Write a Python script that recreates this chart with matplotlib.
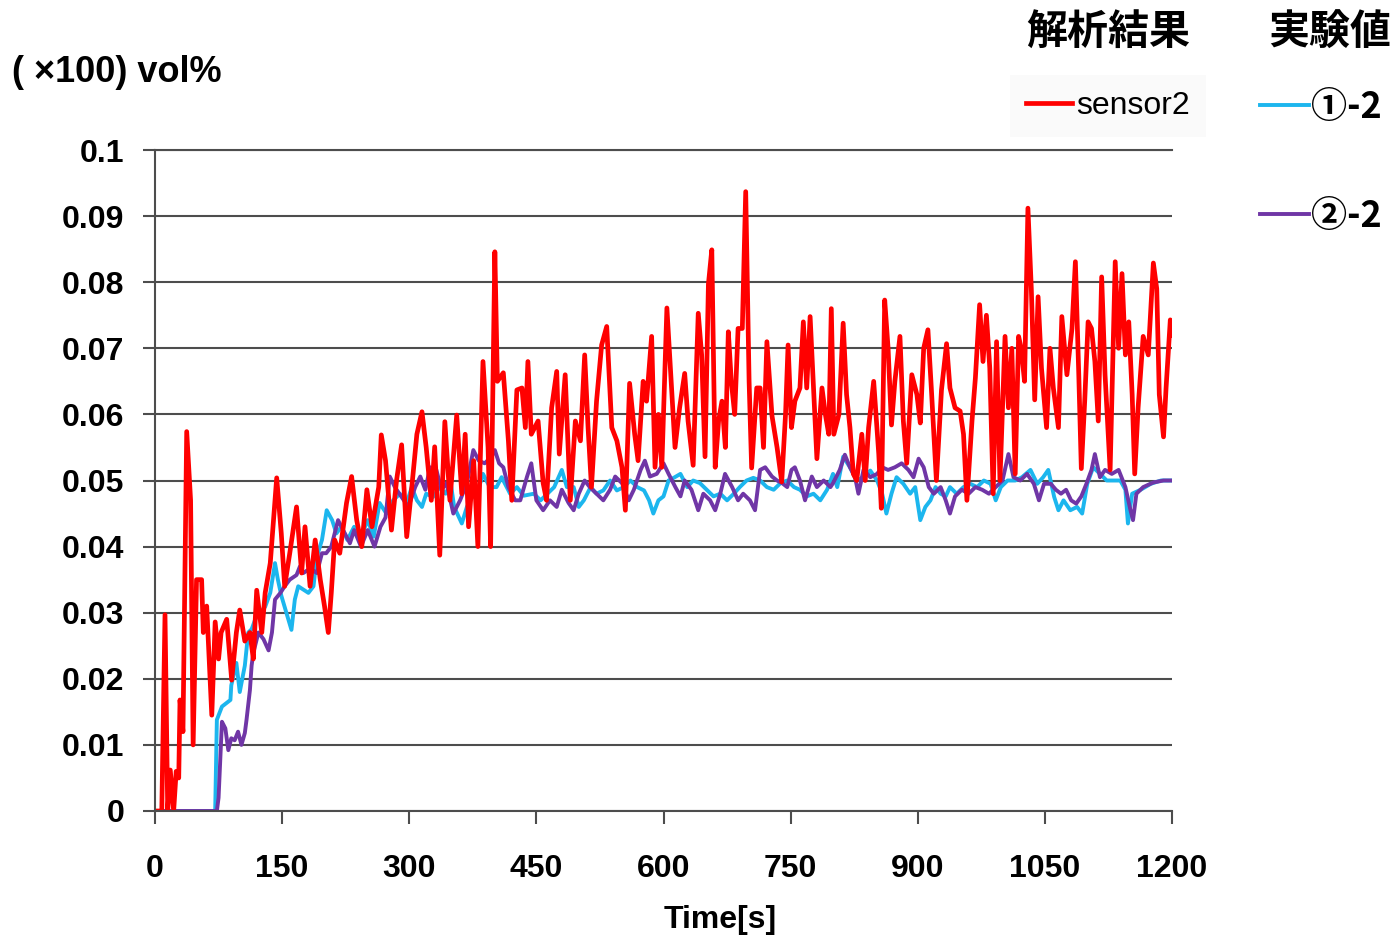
import matplotlib.pyplot as plt
import numpy as np

plt.rcParams['font.family'] = ['Liberation Sans', 'Noto Sans CJK JP', 'DejaVu Sans']

# analysis result: sensor2 (time [s], value)
red_t = [0, 8, 11.8, 15, 18, 22, 25, 28, 29.5, 33, 37.4, 42, 45, 49, 55, 57, 61, 67, 71, 75,
         78, 84.6, 90.5, 96, 100, 106, 112, 116, 120, 126, 130, 136, 143.6, 149, 153, 159,
         167, 173, 177, 183, 189, 195, 200, 204.5, 208, 212, 218, 226, 232, 238, 244, 250,
         256, 260, 264, 267, 272, 279, 285, 291, 297, 303, 309, 315, 320, 326, 330, 336,
         342, 348, 356, 362, 366, 370, 376, 381, 387, 393, 396, 401, 404, 411, 417, 421,
         427, 433, 437, 440, 444, 448, 452, 458, 462, 468, 474, 477, 484, 490, 496, 502,
         507, 511, 515, 521, 527, 533, 539, 545, 551, 555, 560, 566, 570, 576, 580, 586,
         590, 594, 598, 604, 610, 613.6, 619, 625, 629, 635, 641, 645, 649, 653, 657, 661,
         665, 669, 673, 676.5, 680, 684, 688, 693, 697, 701, 704, 710, 714, 718, 722, 728,
         734, 739.5, 744, 747, 751, 755, 761, 765, 769, 773, 777, 781, 787, 791, 795, 798,
         801, 807, 812, 816, 820, 824, 828, 834, 838, 842, 848, 854, 857, 861, 865, 869,
         873, 879, 883, 887, 893, 899, 903, 907, 912, 916, 922, 928, 934, 938, 944, 950,
         954, 958, 964, 968, 973, 977, 981, 985, 989, 993, 997, 1003, 1007, 1011, 1015,
         1019, 1022, 1026, 1030, 1034, 1038, 1042, 1046, 1052, 1056, 1060, 1066, 1070,
         1076, 1082, 1086, 1090, 1093, 1097, 1101, 1105, 1109, 1113, 1117, 1121, 1127,
         1133, 1137, 1141, 1145, 1149, 1153, 1156, 1160, 1166, 1172, 1178, 1182, 1185,
         1190, 1193, 1198, 1200]
red_v = [0, 0, 0.0297, 0, 0.0062, 0, 0.006, 0.005, 0.0168, 0.012, 0.0574, 0.047, 0.010, 0.035,
         0.035, 0.027, 0.031, 0.0145, 0.0286, 0.023, 0.027, 0.029, 0.0198, 0.027, 0.0304,
         0.0257, 0.027, 0.023, 0.0334, 0.027, 0.033, 0.0375, 0.0504, 0.042, 0.034, 0.039,
         0.046, 0.036, 0.043, 0.034, 0.041, 0.035, 0.031, 0.027, 0.033, 0.041, 0.039, 0.0466,
         0.0506, 0.044, 0.040, 0.0486, 0.043, 0.046, 0.049, 0.0569, 0.053, 0.0425, 0.050,
         0.0554, 0.0415, 0.049, 0.057, 0.0604, 0.055, 0.047, 0.0551, 0.0387, 0.0589, 0.047,
         0.0599, 0.048, 0.057, 0.043, 0.053, 0.040, 0.068, 0.055, 0.040, 0.0846, 0.065,
         0.0663, 0.056, 0.047, 0.0637, 0.064, 0.058, 0.068, 0.057, 0.058, 0.059, 0.0496,
         0.047, 0.061, 0.0665, 0.054, 0.066, 0.047, 0.059, 0.056, 0.069, 0.058, 0.049, 0.062,
         0.0705, 0.0733, 0.058, 0.056, 0.052, 0.0455, 0.0647, 0.057, 0.053, 0.065, 0.062,
         0.0718, 0.052, 0.060, 0.052, 0.0761, 0.063, 0.055, 0.061, 0.0662, 0.059, 0.0523,
         0.0753, 0.069, 0.0536, 0.0797, 0.0849, 0.052, 0.059, 0.062, 0.055, 0.0725, 0.065,
         0.060, 0.073, 0.073, 0.0937, 0.065, 0.0519, 0.064, 0.064, 0.055, 0.071, 0.0598,
         0.055, 0.0498, 0.060, 0.0705, 0.058, 0.062, 0.064, 0.074, 0.064, 0.0748, 0.064,
         0.0533, 0.064, 0.060, 0.057, 0.076, 0.057, 0.060, 0.0738, 0.063, 0.058, 0.051,
         0.050, 0.057, 0.050, 0.058, 0.065, 0.054, 0.0458, 0.0773, 0.070, 0.0584, 0.065,
         0.0718, 0.059, 0.0526, 0.066, 0.063, 0.0587, 0.070, 0.0728, 0.064, 0.050, 0.0637,
         0.0707, 0.064, 0.061, 0.0605, 0.057, 0.047, 0.059, 0.0655, 0.0766, 0.068, 0.075,
         0.067, 0.048, 0.071, 0.050, 0.0718, 0.061, 0.070, 0.051, 0.0718, 0.070, 0.065,
         0.0912, 0.079, 0.0622, 0.0778, 0.067, 0.058, 0.070, 0.064, 0.058, 0.0748, 0.066,
         0.073, 0.0831, 0.066, 0.0518, 0.062, 0.074, 0.073, 0.068, 0.059, 0.0808, 0.066,
         0.0516, 0.0831, 0.070, 0.0813, 0.069, 0.074, 0.063, 0.051, 0.061, 0.0718, 0.069,
         0.0829, 0.079, 0.063, 0.0566, 0.064, 0.0743, 0.072]

# experiment 1-2
cyan_t = [0, 71, 73, 79, 89, 90, 96, 100, 106, 110, 114, 120, 124, 130, 136, 141.6, 145, 149,
          155, 161, 165, 169, 175, 181, 187, 191, 197, 202.6, 209, 214, 220, 227, 235, 243,
          251, 258, 265, 273, 281, 289, 297, 303, 309, 315, 320, 328, 336, 343, 349, 353,
          362, 368, 374, 380, 387, 395, 403, 409, 419, 427, 435, 447, 455, 463, 471, 480,
          486, 494, 500, 506, 514, 521, 529, 537, 545, 553, 561, 569, 577, 583, 588, 594,
          600, 606, 612, 620, 628, 635, 643, 651, 659, 667, 675, 683, 690, 698, 706, 714,
          722, 730, 738, 746, 754, 761, 769, 777, 785, 793, 800, 805, 812, 820, 828, 836,
          844, 852, 858, 863, 869, 875, 883, 891, 897, 903, 909, 915, 921, 927, 933, 938,
          946, 954, 962, 970, 978, 986, 992, 998, 1006, 1015, 1023, 1033, 1041, 1048, 1054,
          1061, 1066, 1072, 1080, 1088, 1094, 1100, 1107, 1115, 1123, 1131, 1139, 1145,
          1148, 1153, 1163, 1175, 1187, 1200]
cyan_v = [0, 0, 0.0138, 0.0158, 0.0168, 0.019, 0.0224, 0.018, 0.022, 0.027, 0.0275, 0.0296,
          0.030, 0.0309, 0.033, 0.0375, 0.035, 0.0326, 0.030, 0.0274, 0.032, 0.034, 0.0335,
          0.033, 0.034, 0.0385, 0.041, 0.0455, 0.044, 0.042, 0.043, 0.041, 0.043, 0.0415,
          0.044, 0.0415, 0.0466, 0.045, 0.047, 0.048, 0.0466, 0.049, 0.047, 0.046, 0.048,
          0.0475, 0.049, 0.048, 0.0496, 0.046, 0.0435, 0.046, 0.0475, 0.048, 0.051, 0.049,
          0.049, 0.0505, 0.048, 0.049, 0.0477, 0.048, 0.047, 0.048, 0.049, 0.0516, 0.049,
          0.049, 0.046, 0.047, 0.049, 0.048, 0.0485, 0.050, 0.0485, 0.049, 0.050, 0.049,
          0.0485, 0.047, 0.045, 0.047, 0.0476, 0.050, 0.0504, 0.051, 0.049, 0.050, 0.0496,
          0.0486, 0.0476, 0.048, 0.047, 0.048, 0.049, 0.050, 0.0504, 0.050, 0.049, 0.0486,
          0.0496, 0.050, 0.049, 0.0486, 0.0476, 0.048, 0.047, 0.0486, 0.051, 0.049, 0.0536,
          0.052, 0.050, 0.0505, 0.0515, 0.050, 0.048, 0.045, 0.048, 0.0505, 0.0495, 0.048,
          0.049, 0.044, 0.046, 0.047, 0.049, 0.048, 0.0476, 0.049, 0.048, 0.049, 0.0495,
          0.049, 0.050, 0.0495, 0.047, 0.049, 0.050, 0.050, 0.0505, 0.0516, 0.0495, 0.0505,
          0.0516, 0.0475, 0.0455, 0.047, 0.0455, 0.046, 0.045, 0.0495, 0.052, 0.051, 0.050,
          0.050, 0.050, 0.0486, 0.0435, 0.048, 0.0486, 0.0495, 0.050, 0.050]

# experiment 2-2
purple_t = [0, 73, 75, 79, 83, 86.5, 90, 94, 98, 102, 106, 108, 112, 114, 116, 122, 128, 134,
            138, 141.6, 148, 153, 159, 167, 171, 175, 183, 191, 197, 202, 208, 216, 222, 230,
            235, 243, 251, 259, 266, 272, 277, 283, 291, 299, 307, 313, 319, 324.5, 332, 338,
            344, 352, 360, 368, 375.6, 382, 389, 397, 401, 406, 411, 417, 425, 431, 439, 444,
            450, 458, 466, 474, 480, 488, 494, 500, 507, 513, 521, 529, 537, 543, 551, 559,
            565, 573, 578, 584, 592, 600, 606, 614, 620, 625, 633, 641, 647, 655, 661, 667,
            672.6, 681, 688, 694, 702, 708, 714, 720, 728, 734, 740, 746, 751, 755, 761, 767,
            775, 781, 789, 797, 800, 808, 814, 820, 826, 830, 836, 844, 852, 858, 865, 873,
            881, 889, 895, 901, 907, 913, 919, 927, 933, 938, 944, 952, 960, 968, 976, 984,
            992, 1000, 1007, 1013, 1021, 1029, 1037, 1043, 1049, 1057, 1063, 1069, 1075,
            1081, 1087, 1093, 1099, 1105, 1109, 1115, 1121, 1129, 1137, 1145, 1151, 1154,
            1158, 1166, 1178, 1190, 1200]
purple_v = [0, 0, 0.002, 0.0135, 0.0125, 0.0092, 0.011, 0.0107, 0.012, 0.010, 0.0118, 0.0138,
            0.0183, 0.022, 0.0239, 0.027, 0.026, 0.0243, 0.027, 0.032, 0.033, 0.034, 0.035,
            0.0357, 0.037, 0.036, 0.0367, 0.036, 0.039, 0.039, 0.040, 0.044, 0.0425, 0.0405,
            0.0425, 0.040, 0.0425, 0.040, 0.043, 0.0444, 0.0506, 0.049, 0.0475, 0.046, 0.049,
            0.0506, 0.0486, 0.052, 0.0516, 0.0486, 0.0496, 0.045, 0.047, 0.0496, 0.0546, 0.053,
            0.0526, 0.0536, 0.0546, 0.0526, 0.052, 0.049, 0.047, 0.047, 0.0506, 0.0526, 0.047,
            0.0455, 0.047, 0.046, 0.0486, 0.0466, 0.0455, 0.048, 0.050, 0.049, 0.048, 0.047,
            0.0486, 0.0506, 0.0496, 0.047, 0.0486, 0.0516, 0.053, 0.0506, 0.051, 0.0526, 0.051,
            0.049, 0.0476, 0.050, 0.0486, 0.0455, 0.048, 0.047, 0.0455, 0.048, 0.051, 0.049,
            0.047, 0.048, 0.047, 0.0455, 0.0516, 0.052, 0.0506, 0.050, 0.0496, 0.049, 0.0516,
            0.052, 0.050, 0.047, 0.0506, 0.049, 0.050, 0.049, 0.0496, 0.0516, 0.0539, 0.052,
            0.0505, 0.048, 0.0516, 0.0505, 0.051, 0.052, 0.0516, 0.052, 0.0526, 0.0516, 0.0505,
            0.0533, 0.052, 0.049, 0.048, 0.049, 0.047, 0.045, 0.0476, 0.0486, 0.048, 0.049,
            0.0486, 0.048, 0.049, 0.050, 0.054, 0.0505, 0.050, 0.051, 0.0495, 0.047, 0.0495,
            0.0495, 0.0486, 0.048, 0.0486, 0.047, 0.0465, 0.0476, 0.0495, 0.0516, 0.054,
            0.0505, 0.0516, 0.051, 0.0516, 0.049, 0.0455, 0.044, 0.048, 0.049, 0.0497, 0.050,
            0.050]

x_ticks = [0, 150, 300, 450, 600, 750, 900, 1050, 1200]
y_ticks = [0, 0.01, 0.02, 0.03, 0.04, 0.05, 0.06, 0.07, 0.08, 0.09, 0.1]
y_labels = ['0', '0.01', '0.02', '0.03', '0.04', '0.05', '0.06', '0.07', '0.08', '0.09', '0.1']

GRID = '#4d4d4d'
W, H = 1393, 941

fig = plt.figure(figsize=(W / 100, H / 100), dpi=100)
ax = fig.add_axes([155 / W, 1 - 811 / H, (1172 - 155) / W, (811 - 150) / H])

l_cyan, = ax.plot(cyan_t, cyan_v, color='#1cb6ee', lw=2.8, label='①-2')
l_purple, = ax.plot(purple_t, purple_v, color='#7036a6', lw=2.8, label='②-2')
l_red, = ax.plot(red_t, red_v, color='#ff0000', lw=3.4, label='sensor2')

ax.set_xlim(0, 1200)
ax.set_ylim(0, 0.1)
ax.set_xticks(x_ticks)
ax.set_xticklabels([str(x) for x in x_ticks])
ax.set_yticks(y_ticks)
ax.set_yticklabels(y_labels)
ax.yaxis.grid(True, color=GRID, lw=1.5)
ax.set_axisbelow(True)
for s in ['left', 'bottom', 'top']:
    ax.spines[s].set_color(GRID)
    ax.spines[s].set_linewidth(1.5)
ax.spines['right'].set_visible(False)
ax.tick_params(axis='x', direction='out', length=9, width=1.5, color=GRID, pad=22,
               labelsize=23)
ax.tick_params(axis='y', direction='out', length=9, width=1.5, color=GRID, pad=13,
               labelsize=23)
for lab in ax.get_xticklabels() + ax.get_yticklabels():
    lab.set_fontweight('bold')

fig.text(720 / W, 1 - 920 / H, 'Time[s]', ha='center', va='center', fontsize=23,
         fontweight='bold')
fig.text(12 / W, 1 - 72 / H, '( ×100) vol%', ha='left', va='center', fontsize=26,
         fontweight='bold')

# legend headers
cjk = ['Noto Sans CJK JP', 'DejaVu Sans']
fig.text(1108 / W, 1 - 33 / H, '解析結果', ha='center', va='center', fontsize=29.5,
         fontweight='bold', family=cjk)
fig.text(1330 / W, 1 - 33 / H, '実験値', ha='center', va='center', fontsize=29.5,
         fontweight='bold', family=cjk)

leg1 = fig.legend(handles=[l_red], labels=['sensor2'], loc='center left',
                  bbox_to_anchor=(1010 / W, 1 - 106 / H), fontsize=23, frameon=True,
                  facecolor='#fafafa', edgecolor='none', fancybox=False, borderpad=0.5,
                  handlelength=1.45, handletextpad=0.12, borderaxespad=0)
leg1.get_frame().set_alpha(1)
fig.add_artist(leg1)

leg2 = fig.legend(handles=[l_cyan, l_purple], labels=['①-2', '②-2'], loc='center left',
                  bbox_to_anchor=(1260 / W, 1 - 162 / H), frameon=False, borderpad=0,
                  borderaxespad=0, handlelength=1.35, handletextpad=0.05,
                  labelspacing=2.0, prop={'family': cjk, 'weight': 'bold', 'size': 26})

fig.savefig('out.png', dpi=100)
